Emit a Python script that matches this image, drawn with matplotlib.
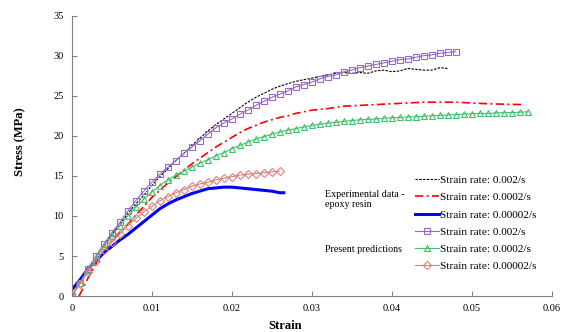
import matplotlib
matplotlib.use("Agg")
import matplotlib.pyplot as plt
import numpy as np

plt.rcParams['font.family'] = ['Liberation Serif', 'DejaVu Serif']

# ---- experimental data (epoxy resin) ----
exp_fast_x = np.arange(0, 0.0475, 0.001)
exp_fast_y = [0, 1.6, 3.2, 4.8, 6.3, 7.7, 9.0, 10.3, 11.5, 12.6, 13.8, 14.9, 15.9, 16.9,
              17.8, 18.8, 19.7, 20.6, 21.4, 22.1, 22.8, 23.5, 24.2, 24.8, 25.3, 25.8,
              26.2, 26.5, 26.8, 27.0, 27.2, 27.4, 27.6, 27.8, 27.9, 27.8, 27.9, 27.8,
              28.1, 28.2, 28.0, 28.1, 28.4, 28.3, 28.2, 28.2, 28.5, 28.4]

exp_mid_x = [0.0009, 0.002, 0.003, 0.004, 0.005, 0.006, 0.007, 0.008, 0.009, 0.010,
             0.011, 0.012, 0.013, 0.014, 0.015, 0.016, 0.017, 0.018, 0.019, 0.020,
             0.021, 0.022, 0.023, 0.024, 0.025, 0.026, 0.027, 0.028, 0.029, 0.030,
             0.032, 0.034, 0.036, 0.038, 0.040, 0.042, 0.044, 0.046, 0.048, 0.050,
             0.052, 0.054, 0.0563]
exp_mid_y = [0, 2.2, 4.0, 5.6, 6.8, 7.9, 9.0, 10.1, 11.2, 12.3, 13.2, 14.1, 14.9, 15.7,
             16.5, 17.2, 17.9, 18.6, 19.2, 19.8, 20.4, 20.9, 21.3, 21.7, 22.0, 22.3,
             22.5, 22.8, 23.0, 23.2, 23.4, 23.7, 23.8, 23.9, 24.0, 24.1, 24.2, 24.2,
             24.2, 24.1, 24.0, 23.95, 23.9]

exp_slow_x = [0, 0.001, 0.002, 0.003, 0.004, 0.005, 0.006, 0.007, 0.008, 0.009, 0.010,
              0.011, 0.012, 0.013, 0.014, 0.015, 0.016, 0.017, 0.018, 0.019, 0.020,
              0.021, 0.022, 0.023, 0.024, 0.025, 0.026, 0.0265]
exp_slow_y = [0.8, 2.0, 3.4, 4.4, 5.4, 6.2, 7.0, 7.7, 8.5, 9.3, 10.1, 10.9, 11.5, 12.0,
              12.4, 12.8, 13.1, 13.4, 13.5, 13.6, 13.6, 13.5, 13.4, 13.3, 13.2, 13.1,
              12.9, 12.9]

# ---- model predictions ----
pred_fast_x = np.arange(0, 0.0485, 0.001)
pred_fast_y = [0, 1.7, 3.4, 5.0, 6.5, 7.9, 9.2, 10.6, 11.9, 13.1, 14.2, 15.2, 16.1, 16.9,
               17.8, 18.6, 19.4, 20.2, 21.0, 21.6, 22.1, 22.7, 23.2, 23.8, 24.3, 24.8,
               25.2, 25.6, 26.1, 26.4, 26.7, 27.1, 27.4, 27.6, 28.0, 28.2, 28.5, 28.7,
               28.9, 29.1, 29.3, 29.5, 29.6, 29.8, 30.0, 30.1, 30.3, 30.4, 30.5]

pred_mid_x = np.arange(0, 0.0575, 0.001)
pred_mid_y = [0, 1.6, 3.2, 4.8, 6.2, 7.5, 8.8, 10.0, 11.1, 12.1, 13.0, 13.8, 14.5, 15.1,
              15.6, 16.1, 16.6, 17.0, 17.5, 17.9, 18.4, 18.8, 19.2, 19.6, 19.9, 20.2,
              20.5, 20.7, 20.9, 21.1, 21.3, 21.45, 21.6, 21.7, 21.8, 21.9, 22.0, 22.05,
              22.1, 22.2, 22.25, 22.3, 22.35, 22.4, 22.45, 22.5, 22.55, 22.6, 22.65,
              22.7, 22.75, 22.8, 22.8, 22.85, 22.9, 22.9, 22.95, 23.0]

pred_slow_x = np.arange(0, 0.0265, 0.001)
pred_slow_y = [0, 1.5, 3.0, 4.4, 5.7, 6.8, 7.8, 8.8, 9.7, 10.5, 11.2, 11.9, 12.4, 12.9,
               13.3, 13.7, 14.0, 14.2, 14.5, 14.7, 14.9, 15.1, 15.2, 15.3, 15.4, 15.5,
               15.6]

xticks = [0, 0.01, 0.02, 0.03, 0.04, 0.05, 0.06]
xtick_labels = ['0', '0.01', '0.02', '0.03', '0.04', '0.05', '0.06']
yticks = [0, 5, 10, 15, 20, 25, 30, 35]

fig = plt.figure(figsize=(5.7, 3.32), dpi=100)
ax = fig.add_axes([0.126, 0.108, 0.842, 0.845])

ax.plot(exp_fast_x, exp_fast_y, color='black', ls=(0, (2.2, 1.2)), lw=0.8,
        label='Strain rate: 0.002/s')
ax.plot(exp_mid_x, exp_mid_y, color='red', ls=(0, (5, 2, 1.2, 2)), lw=1.2,
        label='Strain rate: 0.0002/s')
ax.plot(exp_slow_x, exp_slow_y, color='#0000FF', lw=2.2,
        label='Strain rate: 0.00002/s')
ax.plot(pred_fast_x, pred_fast_y, color='#9966CC', lw=0.8, marker='s', ms=4.2,
        mfc='none', mew=0.8, label='Strain rate: 0.002/s')
ax.plot(pred_mid_x, pred_mid_y, color='#3CC36A', lw=0.8, marker='^', ms=4.8,
        mfc='none', mew=0.8, label='Strain rate: 0.0002/s')
ax.plot(pred_slow_x, pred_slow_y, color='#D9827A', lw=0.8, marker='D', ms=3.6,
        mfc='none', mew=0.8, label='Strain rate: 0.00002/s')

ax.set_xlim(0, 0.06)
ax.set_ylim(0, 35)
ax.set_xticks(xticks)
ax.set_xticklabels(xtick_labels)
ax.set_yticks(yticks)
ax.tick_params(direction='in', length=3.5, width=0.8, color='#808080',
               labelsize=7.5, pad=6)
for s in ['top', 'right']:
    ax.spines[s].set_visible(False)
for s in ['left', 'bottom']:
    ax.spines[s].set_color('#808080')
    ax.spines[s].set_linewidth(0.8)

ax.set_xlabel('Strain', fontsize=9, fontweight='bold')
ax.set_ylabel('Stress (MPa)', fontsize=9, fontweight='bold')
ax.xaxis.set_label_coords(0.445, -0.085)
ax.yaxis.set_label_coords(-0.095, 0.55)

ax.legend(loc='upper left', bbox_to_anchor=(0.705, 0.447), frameon=False,
          fontsize=8.2, handlelength=2.1, handletextpad=0.15, labelspacing=0.63,
          borderaxespad=0, numpoints=1)

ax.text(0.527, 0.345, 'Experimental data -\nepoxy resin', transform=ax.transAxes,
        fontsize=7.2, va='center', ha='left', linespacing=1.15)
ax.text(0.527, 0.167, 'Present predictions', transform=ax.transAxes,
        fontsize=7.2, va='center', ha='left')

fig.savefig('out.png', dpi=100)
